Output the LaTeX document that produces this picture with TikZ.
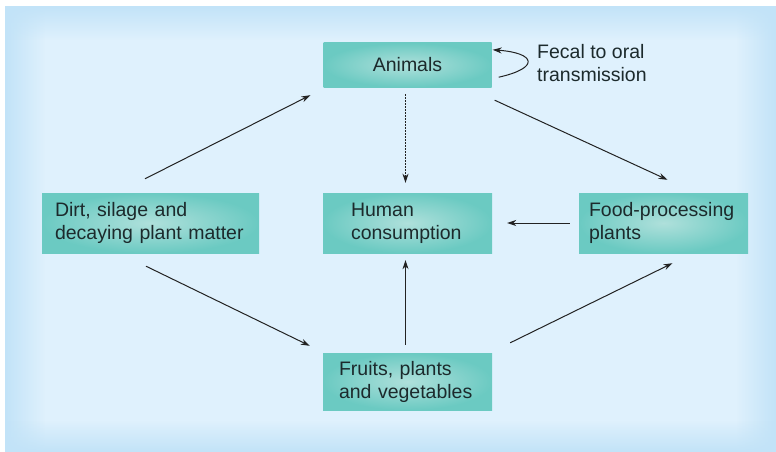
\documentclass[tikz,border=0pt]{standalone}
\usepackage{fontspec}
\setmainfont{Liberation Sans}
\usetikzlibrary{arrows.meta,fadings}
\definecolor{bgedge}{HTML}{C2E3F8}
\definecolor{bgin}{HTML}{DFF1FD}
\definecolor{boxout}{HTML}{6BCAC2}
\definecolor{boxin}{HTML}{AFE0DB}
\definecolor{ink}{HTML}{1C2A2C}
\definecolor{arr}{HTML}{222222}
\tikzfading[name=myfaderight, left color=transparent!0, right color=transparent!100]
\tikzfading[name=myfadeleft, left color=transparent!100, right color=transparent!0]
\tikzfading[name=myfadedown, top color=transparent!0, bottom color=transparent!100]
\tikzfading[name=myfadeup, top color=transparent!100, bottom color=transparent!0]
\tikzset{
  box/.style={draw=none, rectangle, inner color=boxin, outer color=boxout,
    font=\fontsize{19.5}{23}\selectfont, text=ink, align=left, inner ysep=0pt,
    minimum height=#1},
  box/.default=60pt,
  link/.style={draw=arr, line width=1pt, -{Stealth[length=9pt,width=6pt]}},
  dotlink/.style={link, line width=1.3pt, dash pattern=on 1.5pt off 1.5pt}
}
\begin{document}
\begin{tikzpicture}[x=1pt,y=-1pt]
\useasboundingbox (0,0) rectangle (776,452);
\fill[bgin] (5,6) rectangle (776,452);
\fill[bgedge, path fading=myfaderight] (5,6) rectangle (45,452);
\fill[bgedge, path fading=myfadeleft] (736,6) rectangle (776,452);
\fill[bgedge, path fading=myfadedown] (5,6) rectangle (776,40);
\fill[bgedge, path fading=myfadeup] (5,420) rectangle (776,452);

\node[box=44pt, text width=168pt, align=center, inner xsep=0pt] (animals) at (407.5,65) {Animals};
\node[box, text width=191pt, inner xsep=13pt] (dirt) at (150.5,223) {Dirt, silage and\\decaying plant matter};
\node[box, text width=113pt, inner xsep=28pt] (human) at (407.5,223) {Human\\consumption};
\node[box, text width=149pt, inner xsep=10pt] (food) at (663.5,223) {Food-processing\\plants};
\node[box=57pt, text width=137pt, inner xsep=16pt] (fruits) at (407.5,381.5) {Fruits, plants\\and vegetables};
\node[anchor=west, align=left, inner sep=0pt, text=ink, font=\fontsize{19.5}{23}\selectfont] (fecal) at (537,63.5) {Fecal to oral\\transmission};

\draw[link] ([shift={(-5.5,-14)}]dirt.north) -- ([shift={(-13,8)}]animals.south west);
\draw[link] ([shift={(3,13)}]animals.south east) -- ([shift={(4,-13)}]food.north);
\draw[link] ([shift={(-4.5,13)}]dirt.south) -- ([shift={(-13,-7)}]fruits.north west);
\draw[link] ([shift={(18,-10)}]fruits.north east) -- ([shift={(9,10)}]food.south);
\draw[link] ([shift={(-9,0)}]food.west) -- ([shift={(15,0)}]human.east);
\draw[link] ([shift={(-2,-8)}]fruits.north) -- ([shift={(-2,7)}]human.south);
\draw[dotlink] ([shift={(-2,7)}]animals.south) -- ([shift={(-2,-10)}]human.north);
\draw[link] ([shift={(7,-10)}]animals.south east) .. controls (540,68) and (536,53) .. ([shift={(1,7)}]animals.north east);
\end{tikzpicture}
\end{document}
